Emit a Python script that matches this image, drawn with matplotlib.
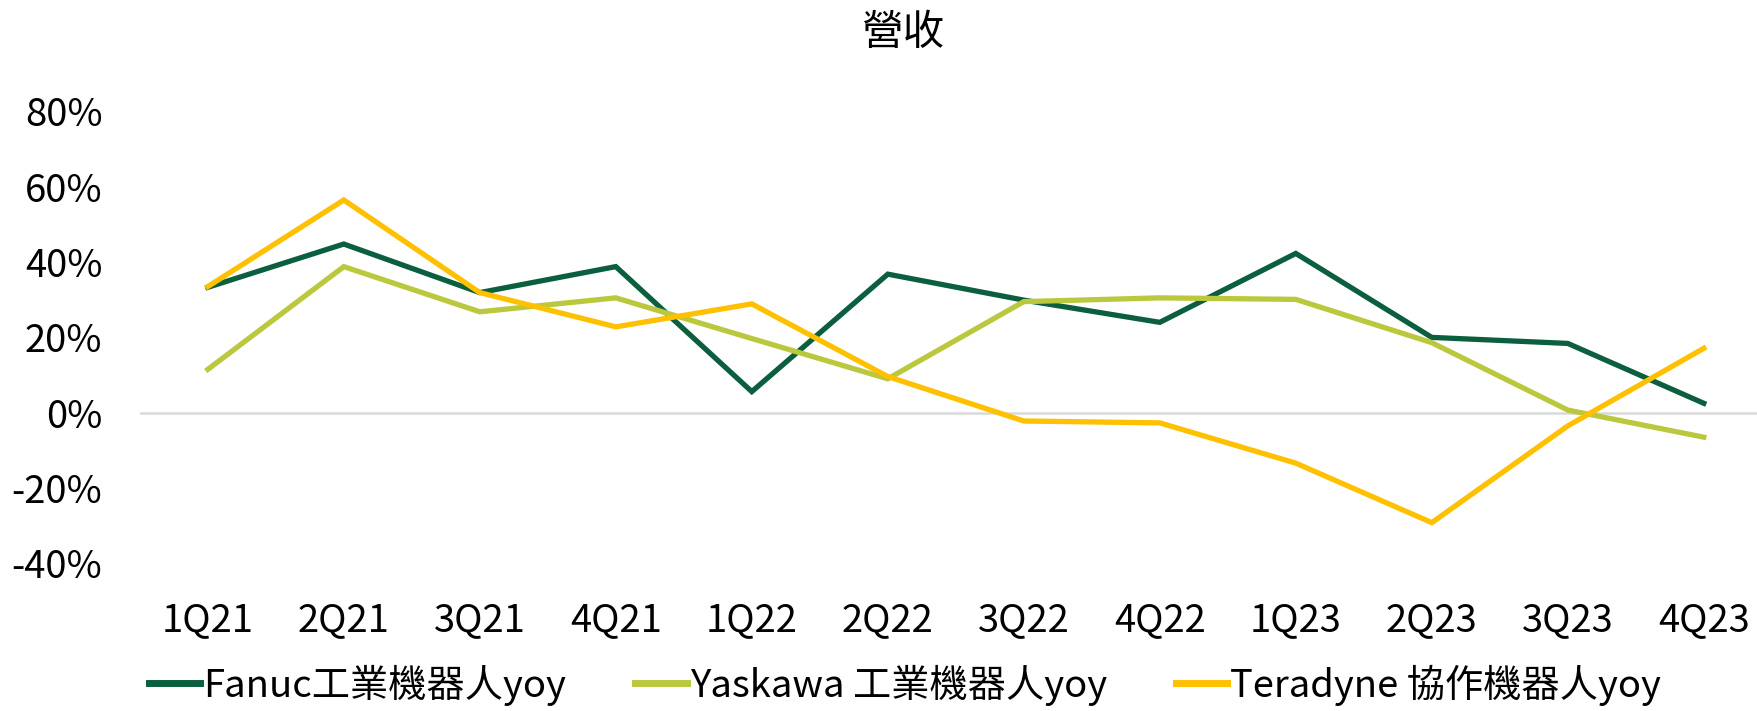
import numpy as np
import matplotlib
matplotlib.use('Agg')
import matplotlib.pyplot as plt
from matplotlib.ticker import FuncFormatter

plt.rcParams['font.family'] = ['Noto Sans CJK TC', 'DejaVu Sans']

quarters = ['1Q21', '2Q21', '3Q21', '4Q21', '1Q22', '2Q22',
            '3Q22', '4Q22', '1Q23', '2Q23', '3Q23', '4Q23']
fanuc = [33.3, 44.8, 31.9, 38.8, 5.6, 36.8, 29.9, 24.0, 42.3, 20.0, 18.4, 2.5]
yaskawa = [11.5, 38.8, 26.8, 30.5, 19.7, 9.0, 29.5, 30.5, 30.1, 18.6, 0.7, -6.5]
teradyne = [33.5, 56.5, 31.9, 22.8, 28.9, 9.6, -2.2, -2.7, -13.4, -29.2, -3.5, 17.1]
names = ['Fanuc工業機器人yoy', 'Yaskawa 工業機器人yoy', 'Teradyne 協作機器人yoy']
colors = ['#0B5E3E', '#BBC83E', '#FFC000']

W, H = 1758, 711
fig = plt.figure(figsize=(W / 100, H / 100), dpi=100)

# plot area in pixels
left, right = 140, W
top, bottom = 111.5, 563.3
ax = fig.add_axes([left / W, 1 - bottom / H, (right - left) / W, (bottom - top) / H])

x = np.arange(len(quarters))
for vals, name, c in zip([fanuc, yaskawa, teradyne], names, colors):
    ax.plot(x, vals, color=c, lw=3.8, label=name, solid_joinstyle='miter')

ax.axhline(0, color='#D9D9D9', lw=1.8, zorder=0)

step = 136.0
x0 = 207.8
ax.set_xlim((left - x0) / step, (right - x0) / step)
ax.set_ylim(-40, 80)
ax.set_yticks([-40, -20, 0, 20, 40, 60, 80])
ax.yaxis.set_major_formatter(FuncFormatter(lambda v, p: f'{v:.0f}%'))
ax.set_xticks(x)
ax.set_xticklabels(quarters)
ax.tick_params(axis='both', length=0, labelsize=27.5, colors='black')
ax.tick_params(axis='y', pad=27)
ax.tick_params(axis='x', pad=27)
for s in ax.spines.values():
    s.set_visible(False)

fig.text(903 / W, 1 - 34 / H, '營收', ha='center', va='center', fontsize=30)

leg = fig.legend(loc='center', bbox_to_anchor=(905 / W, 1 - 685 / H), ncol=3,
                 frameon=False, fontsize=27.5, handlelength=1.35,
                 handletextpad=0.08, columnspacing=1.8, borderpad=0, borderaxespad=0)
for h in leg.get_lines():
    h.set_linewidth(5)

fig.savefig('out.png', dpi=100)
